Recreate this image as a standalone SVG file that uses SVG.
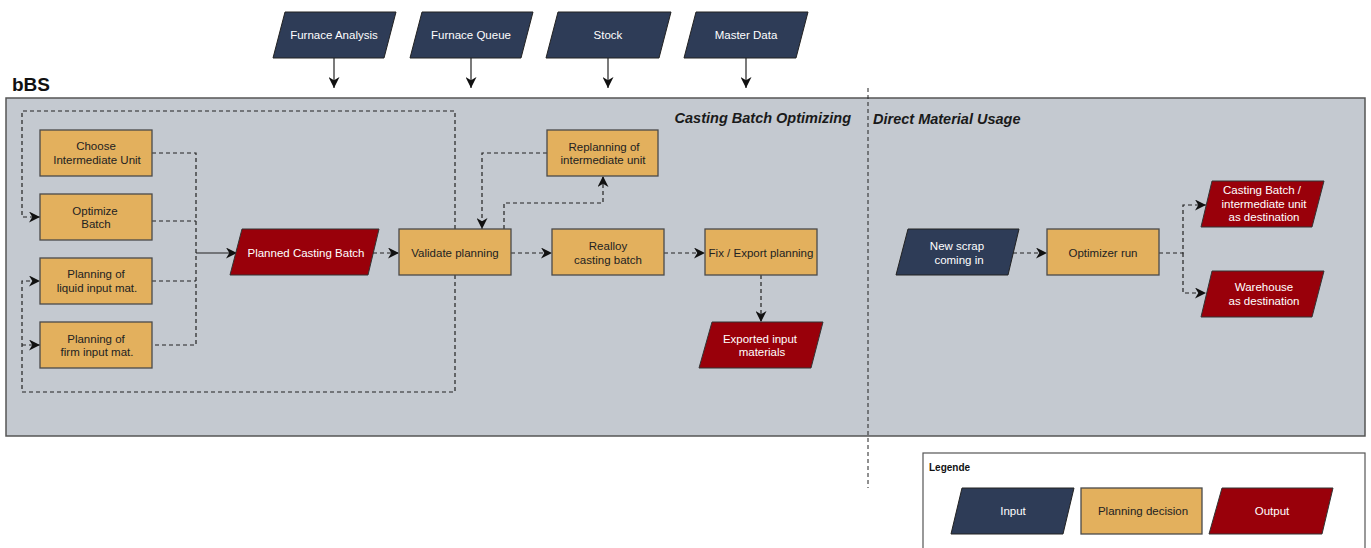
<svg xmlns="http://www.w3.org/2000/svg" width="1371" height="548" viewBox="0 0 1371 548">
<defs>
<marker id="arr" viewBox="0 0 10 10" refX="10" refY="5" markerWidth="11" markerHeight="11" markerUnits="userSpaceOnUse" orient="auto">
<path d="M0,0 L10,5 L0,10 L3,5 z" fill="#111"/>
</marker>
<style>
.in{fill:#2e3c57;stroke:#222;stroke-width:1}
.pl{fill:#e3b05d;stroke:#4a4a4a;stroke-width:1.3}
.out{fill:#99000a;stroke:#333;stroke-width:1}
.t{font-family:"Liberation Sans",Arial,sans-serif;font-size:11.5px;text-anchor:middle}
.tw{fill:#fff}
.tk{fill:#222}
.d{fill:none;stroke:#222;stroke-width:1.2;stroke-dasharray:4 3}
.s{fill:none;stroke:#222;stroke-width:1.2}
.h{font-family:"Liberation Sans",Arial,sans-serif;font-weight:bold;font-style:italic;font-size:14.5px;fill:#1a1a1a}
</style>
</defs>
<rect width="1371" height="548" fill="#fff"/>
<text x="12" y="91" font-family="Liberation Sans,Arial,sans-serif" font-weight="bold" font-size="19" fill="#111">bBS</text>
<rect id="container" x="6" y="98" width="1359" height="338" fill="#c4c9d0" stroke="#555" stroke-width="1.5"/>
<line x1="868" y1="88" x2="868" y2="488" stroke="#222" stroke-width="1" stroke-dasharray="4 3"/>
<text class="h" x="851" y="123" text-anchor="end">Casting Batch Optimizing</text>
<text class="h" x="873" y="124">Direct Material Usage</text>

<g id="connectors">
<path class="s" d="M334,58 V88" marker-end="url(#arr)"/>
<path class="s" d="M471,58 V88" marker-end="url(#arr)"/>
<path class="s" d="M608,58 V88" marker-end="url(#arr)"/>
<path class="s" d="M746,58 V88" marker-end="url(#arr)"/>
<path class="d" d="M455,229 V111 H22 V217 H40" marker-end="url(#arr)"/>
<path class="d" d="M455,275 V392 H22 V281 H40" marker-end="url(#arr)"/>
<path class="d" d="M22,345 H40" marker-end="url(#arr)"/>
<path class="d" d="M152,153 H196 V345 H152"/>
<path class="d" d="M152,221 H196"/>
<path class="d" d="M152,281 H196"/>
<path class="s" d="M196,253 H237" marker-end="url(#arr)"/>
<path class="d" d="M373,253 H399" marker-end="url(#arr)"/>
<path class="d" d="M547,153 H482 V229" marker-end="url(#arr)"/>
<path class="d" d="M504,229 V203 H603 V176" marker-end="url(#arr)"/>
<path class="d" d="M511,253 H552" marker-end="url(#arr)"/>
<path class="d" d="M664,253 H705" marker-end="url(#arr)"/>
<path class="d" d="M761,275 V322" marker-end="url(#arr)"/>
<path class="d" d="M1013,253 H1047" marker-end="url(#arr)"/>
<path class="d" d="M1159,253 H1183 V205 H1206" marker-end="url(#arr)"/>
<path class="d" d="M1183,253 V293 H1206" marker-end="url(#arr)"/>
</g>

<g id="furnace-analysis"><polygon class="in" points="285,12 396,12 384,58 273,58"/><text class="t tw" x="334" y="39">Furnace Analysis</text></g>
<g id="furnace-queue"><polygon class="in" points="422,12 533,12 521,58 410,58"/><text class="t tw" x="471" y="39">Furnace Queue</text></g>
<g id="stock"><polygon class="in" points="558,12 671,12 659,58 546,58"/><text class="t tw" x="608" y="39">Stock</text></g>
<g id="master-data"><polygon class="in" points="696,12 808,12 796,58 684,58"/><text class="t tw" x="746" y="39">Master Data</text></g>

<g id="choose-unit"><rect class="pl" x="40" y="130" width="112" height="46"/><text class="t tk" x="96" y="150">Choose</text><text class="t tk" x="97" y="164">Intermediate Unit</text></g>
<g id="optimize-batch"><rect class="pl" x="40" y="194" width="112" height="46"/><text class="t tk" x="95" y="215">Optimize</text><text class="t tk" x="96" y="228">Batch</text></g>
<g id="planning-liquid"><rect class="pl" x="40" y="258" width="112" height="46"/><text class="t tk" x="96" y="278">Planning of</text><text class="t tk" x="97" y="292">liquid input mat.</text></g>
<g id="planning-firm"><rect class="pl" x="40" y="322" width="112" height="46"/><text class="t tk" x="96" y="343">Planning of</text><text class="t tk" x="97" y="356">firm input mat.</text></g>

<g id="planned-casting-batch"><polygon class="out" points="242,229 379,229 368,275 230,275"/><text class="t tw" x="306" y="257">Planned Casting Batch</text></g>
<g id="validate-planning"><rect class="pl" x="399" y="229" width="112" height="46"/><text class="t tk" x="455" y="257">Validate planning</text></g>
<g id="replanning"><rect class="pl" x="547" y="130" width="111" height="46"/><text class="t tk" x="604" y="151">Replanning of</text><text class="t tk" x="603" y="164">intermediate unit</text></g>
<g id="realloy"><rect class="pl" x="552" y="229" width="112" height="46"/><text class="t tk" x="608" y="250">Realloy</text><text class="t tk" x="608" y="264">casting batch</text></g>
<g id="fix-export"><rect class="pl" x="705" y="229" width="112" height="46"/><text class="t tk" x="761" y="257">Fix / Export planning</text></g>
<g id="exported-materials"><polygon class="out" points="712,322 823,322 811,368 699,368"/><text class="t tw" x="760" y="343">Exported input</text><text class="t tw" x="762" y="356">materials</text></g>

<g id="new-scrap"><polygon class="in" points="908,229 1019,229 1008,275 896,275"/><text class="t tw" x="957" y="250">New scrap</text><text class="t tw" x="959" y="264">coming in</text></g>
<g id="optimizer-run"><rect class="pl" x="1047" y="229" width="112" height="46"/><text class="t tk" x="1103" y="257">Optimizer run</text></g>
<g id="casting-destination"><polygon class="out" points="1212,181 1324,181 1312,227 1201,227"/><text class="t tw" x="1262" y="194">Casting Batch /</text><text class="t tw" x="1264" y="208">intermediate unit</text><text class="t tw" x="1264" y="221">as destination</text></g>
<g id="warehouse-destination"><polygon class="out" points="1212,271 1324,271 1312,317 1201,317"/><text class="t tw" x="1264" y="291">Warehouse</text><text class="t tw" x="1264" y="305">as destination</text></g>

<g id="legend">
<rect x="923" y="453" width="442" height="100" fill="#fff" stroke="#555" stroke-width="1.2"/>
<text x="929" y="471" font-family="Liberation Sans,Arial,sans-serif" font-weight="bold" font-size="10" fill="#111">Legende</text>
<polygon class="in" points="962,488 1074,488 1063,534 951,534"/><text class="t tw" x="1013" y="515">Input</text>
<rect class="pl" x="1081" y="488" width="121" height="46"/><text class="t tk" x="1143" y="515">Planning decision</text>
<polygon class="out" points="1222,488 1333,488 1322,534 1209,534"/><text class="t tw" x="1272" y="515">Output</text>
</g>
</svg>
